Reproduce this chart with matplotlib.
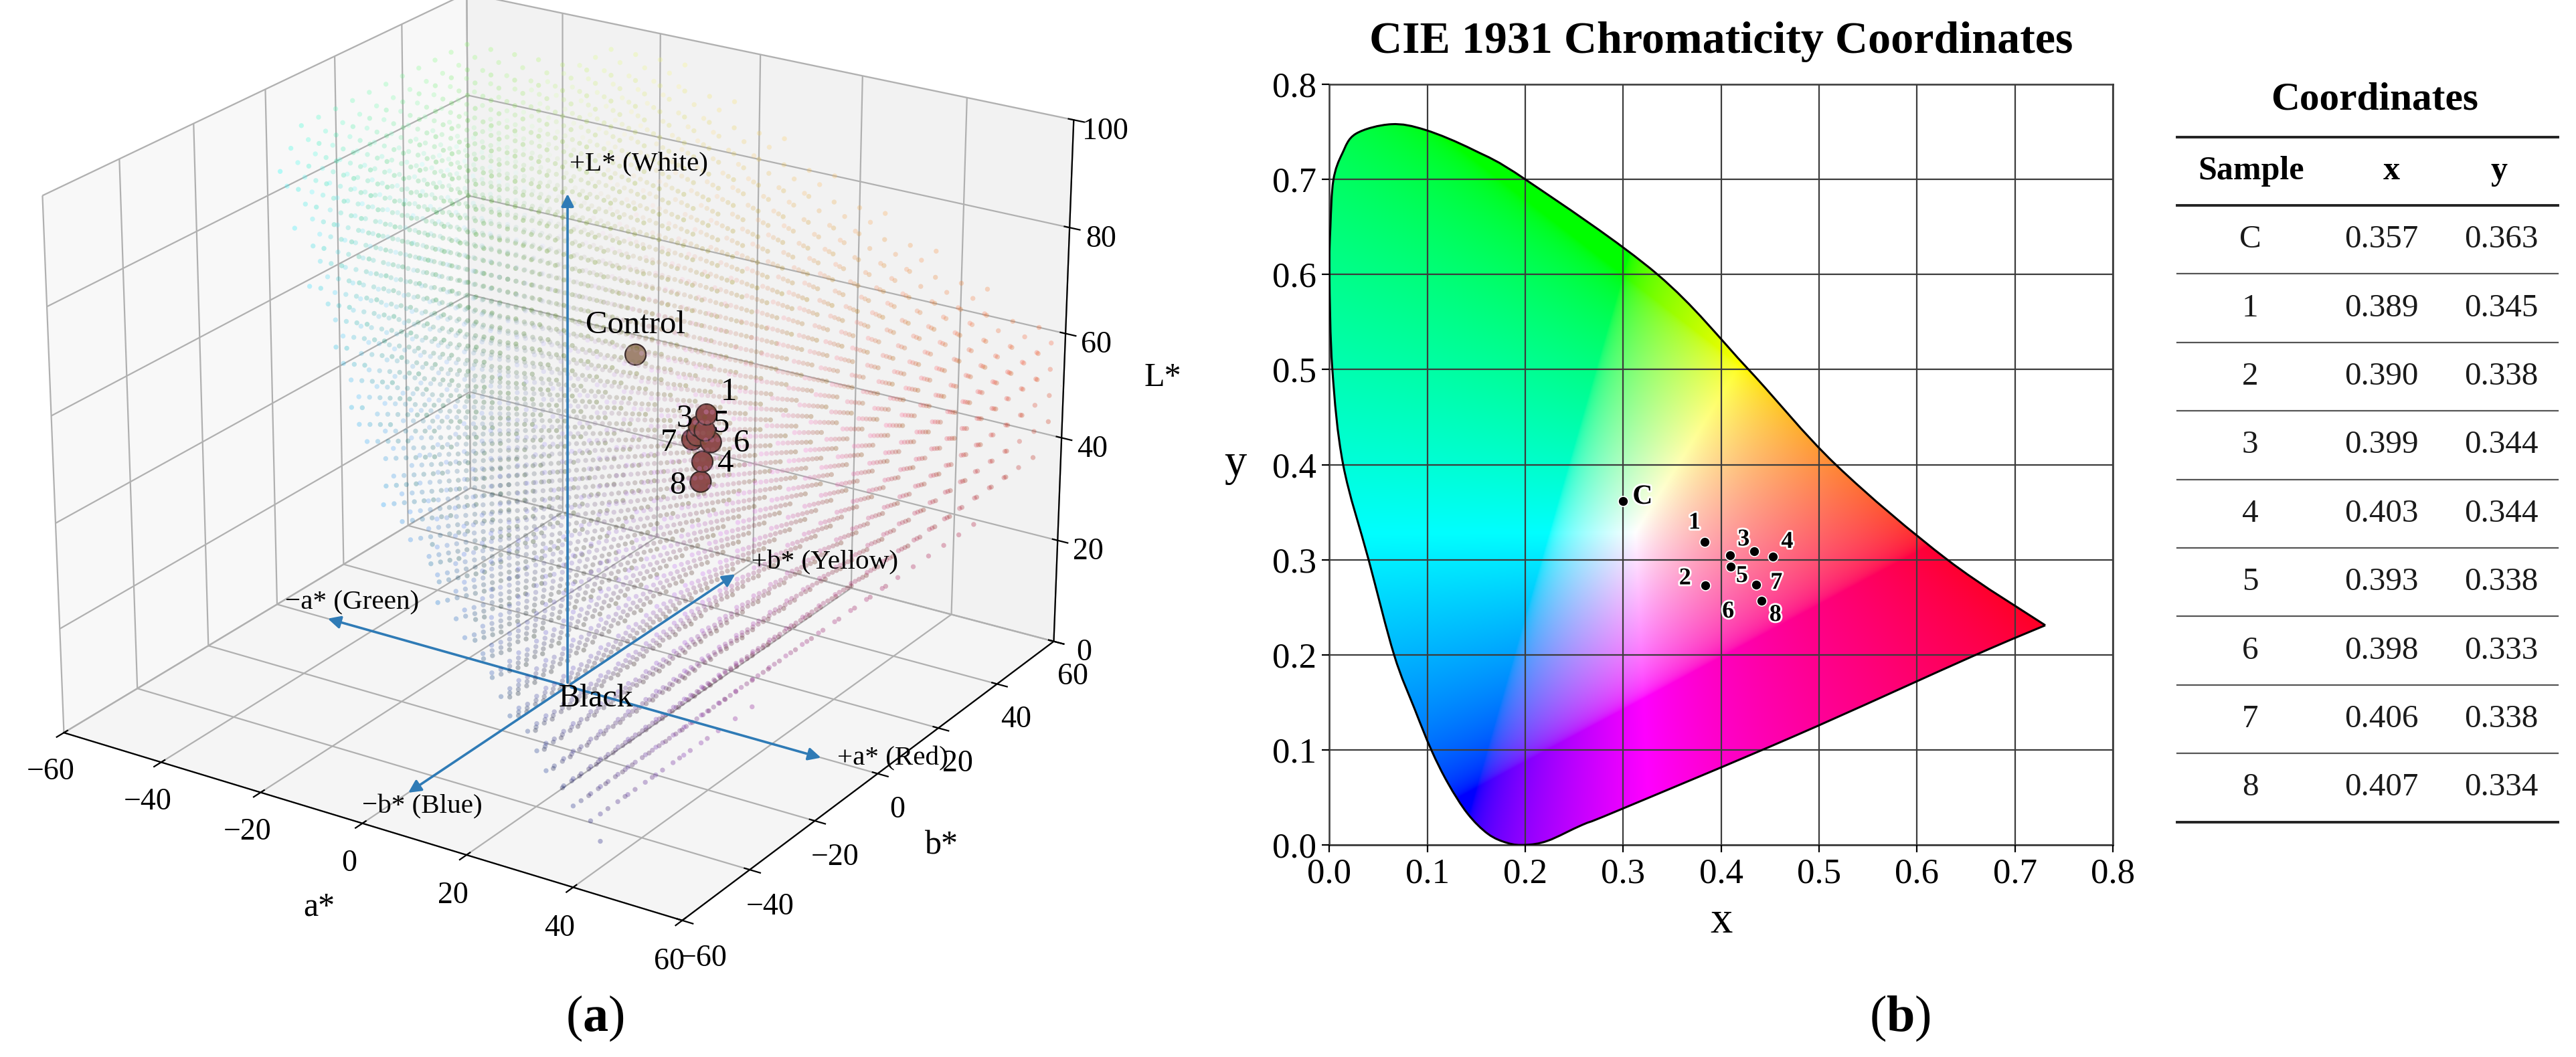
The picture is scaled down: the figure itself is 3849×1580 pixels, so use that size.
import numpy as np
import matplotlib.pyplot as plt
from matplotlib.path import Path
from matplotlib.patches import PathPatch, FancyArrowPatch
import matplotlib.patheffects as pe
from mpl_toolkits.mplot3d import proj3d

plt.rcParams['font.family'] = ['Liberation Serif', 'DejaVu Serif']
plt.rcParams['mathtext.fontset'] = 'custom'
plt.rcParams['mathtext.rm'] = 'Liberation Serif'
plt.rcParams['mathtext.bf'] = 'Liberation Serif:bold'

# ---------------- data ----------------
# (a) CIELAB positions of the samples
lab_names = ['Control', '1', '2', '3', '4', '5', '6', '7', '8']
lab_L = [59.3, 52.6, 48.2, 50.0, 43.5, 49.5, 47.6, 47.2, 39.6]
lab_a = [4.0, 19.4, 17.6, 18.0, 18.7, 19.1, 20.3, 16.7, 18.4]
lab_b = [14.5, 12.0, 12.0, 12.0, 12.0, 12.0, 12.0, 12.0, 12.0]
lab_colors = ['#a08470'] + ['#8e4b4b'] * 8

# direction arrows from Black (origin): label, a, b, L
axis_labels = ['+L* (White)', '\u2212a* (Green)', '+a* (Red)', '+b* (Yellow)', '\u2212b* (Blue)']
axis_da = [0, -50, 50, 0, 0]
axis_db = [0, 0, 0, 55, -48]
axis_dL = [94, 0, 0, 0, 0]

# (b) chromaticity points as drawn, and the table values
cie_names = ['C', '1', '2', '3', '4', '5', '6', '7', '8']
cie_x = [0.300, 0.383, 0.384, 0.434, 0.453, 0.409, 0.410, 0.436, 0.441]
cie_y = [0.362, 0.319, 0.273, 0.309, 0.303, 0.305, 0.293, 0.274, 0.257]

tab_sample = ['C', '1', '2', '3', '4', '5', '6', '7', '8']
tab_x = ['0.357', '0.389', '0.390', '0.399', '0.403', '0.393', '0.398', '0.406', '0.407']
tab_y = ['0.363', '0.345', '0.338', '0.344', '0.344', '0.338', '0.333', '0.338', '0.334']

# outline of the colour region (starts/ends at red corner)
locus_x = [0.731, 0.631, 0.517, 0.428, 0.335, 0.200, 0.147, 0.098, 0.063, 0.027, 0.013,
           0.004, 0.001, 0.000, 0.003, 0.014, 0.040, 0.066, 0.087, 0.104, 0.121, 0.141,
           0.162, 0.182, 0.200, 0.223, 0.258, 0.292, 0.476, 0.658, 0.731]
locus_y = [0.231, 0.300, 0.400, 0.500, 0.600, 0.700, 0.731, 0.752, 0.758, 0.748, 0.727,
           0.699, 0.650, 0.600, 0.500, 0.400, 0.300, 0.200, 0.143, 0.100, 0.065, 0.033,
           0.0115, 0.002, 0.000, 0.0044, 0.021, 0.035, 0.115, 0.199, 0.231]

M_XYZ = np.array([[3.2406, -1.5372, -0.4986],
                  [-0.9689, 1.8758, 0.0415],
                  [0.0557, -0.2040, 1.0570]])


def gamma(c):
    c = np.clip(c, 0, 1)
    return np.where(c <= 0.0031308, 12.92 * c, 1.055 * c ** (1 / 2.4) - 0.055)


def lab_to_rgb(L, a, b):
    fy = (L + 16) / 116
    fx = fy + a / 500
    fz = fy - b / 200
    finv = lambda t: np.where(t > 6 / 29, t ** 3, 3 * (6 / 29) ** 2 * (t - 4 / 29))
    xyz = np.stack([0.95047 * finv(fx), finv(fy), 1.08883 * finv(fz)])
    return M_XYZ @ xyz


class Arrow3D(FancyArrowPatch):
    def __init__(self, xs, ys, zs, *args, **kwargs):
        super().__init__((0, 0), (0, 0), *args, **kwargs)
        self._verts3d = xs, ys, zs

    def do_3d_projection(self, renderer=None):
        xs, ys, zs = proj3d.proj_transform(*self._verts3d, self.axes.M)
        self.set_positions((xs[0], ys[0]), (xs[1], ys[1]))
        return np.min(zs)


fig = plt.figure(figsize=(3849 / 200, 1580 / 200), dpi=200)

# ---------------- (a) 3D CIELAB ----------------
ax = fig.add_axes([-0.02, 0.103, 0.47, 0.96], projection='3d')
ax.view_init(elev=23, azim=-57)
ax.set_xlim(-60, 60)
ax.set_ylim(-60, 60)
ax.set_zlim(0, 100)
ax.set_box_aspect((4, 4, 3.15), zoom=1.13)

gL, ga, gb = np.meshgrid(np.arange(5, 100, 5), np.arange(-60, 61, 5), np.arange(-60, 61, 5), indexing='ij')
gL, ga, gb = gL.ravel(), ga.ravel(), gb.ravel()
lin = lab_to_rgb(gL, ga, gb)
ok = np.all((lin >= -0.001) & (lin <= 1.001), axis=0)
cols = gamma(lin[:, ok]).T
ax.scatter(ga[ok], gb[ok], gL[ok], c=cols, s=7, alpha=0.28, linewidths=0, depthshade=False)

for da, db, dL in zip(axis_da, axis_db, axis_dL):
    ax.add_artist(Arrow3D([0, da], [0, db], [0, dL], arrowstyle='-|>', mutation_scale=14,
                          color='#2f7bb6', lw=1.3))

ax.scatter(lab_a, lab_b, lab_L, s=125, c=lab_colors, edgecolors='#3a2a2a', linewidths=0.8,
           depthshade=False, alpha=1)

ax.set_xticks(range(-60, 61, 20))
ax.set_yticks(range(-60, 61, 20))
ax.set_zticks(range(0, 101, 20))
ax.tick_params(labelsize=16.5, pad=1)
ax.set_xlabel('a*', fontsize=18, labelpad=8)
ax.set_ylabel('b*', fontsize=18, labelpad=8)
ax.set_zlabel('L*', fontsize=18, labelpad=8)

fig.canvas.draw()
P = ax.get_proj()


def label3d(text, a, b, L, dx, dy, size, ha='center'):
    px, py, _ = proj3d.proj_transform(a, b, L, P)
    ax.annotate(text, (px, py), xytext=(dx, dy), textcoords='offset points',
                fontsize=size, ha=ha, va='center', zorder=10)


arrow_offsets = [(1, 14, 'left'), (15, 8, 'center'), (7, 0, 'left'), (7, 5, 'left'), (9, -6.5, 'center')]
for lbl, da, db, dL, (dx, dy, ha) in zip(axis_labels, axis_da, axis_db, axis_dL, arrow_offsets):
    label3d(lbl, da, db, dL, dx, dy, 14.8, ha)
label3d('Black', 0, 0, 0, -4.7, -6.5, 17.2, 'left')

lab_offsets = [(0, 16), (12, 12), None, (-8, 4), (12.6, -1), (8.6, 3.6), (16.5, -0.7), (-12.6, -1.8), (-12.6, -2.2)]
for name, a, b, L, off in zip(lab_names, lab_a, lab_b, lab_L, lab_offsets):
    if off is None:   # label hidden behind the cluster in the original
        continue
    label3d(name, a, b, L, off[0], off[1], 17.5)

# ---------------- (b) CIE 1931 ----------------
ax2 = fig.add_axes([1986.4 / 3849, 1 - 1263 / 1580, (3157 - 1986.4) / 3849, (1263 - 126) / 1580])
n = 700
gx, gy = np.meshgrid(np.linspace(0, 0.8, n), np.linspace(0.0005, 0.8, n))
xyz = np.stack([gx / gy, np.ones_like(gx), (1 - gx - gy) / gy])
rgb = np.tensordot(M_XYZ, xyz, axes=1)
rgb = np.clip(rgb, 0, None)
rgb = rgb / rgb.max(axis=0, keepdims=True)
img = gamma(rgb).transpose(1, 2, 0)
im = ax2.imshow(img, origin='lower', extent=(0, 0.8, 0, 0.8), interpolation='bilinear', zorder=0)

pts = np.column_stack([locus_x, locus_y])
verts = [pts[0]]
codes = [Path.MOVETO]
for i in range(len(pts) - 1):
    p0 = pts[i - 1] if i > 0 else pts[i]
    p1, p2 = pts[i], pts[i + 1]
    p3 = pts[i + 2] if i + 2 < len(pts) else pts[i + 1]
    verts += [p1 + (p2 - p0) / 6, p2 - (p3 - p1) / 6, p2]
    codes += [Path.CURVE4] * 3
locus = PathPatch(Path(verts, codes), facecolor='none', edgecolor='black', lw=1.1, zorder=3)
ax2.add_patch(locus)
im.set_clip_path(locus)

ax2.set_xlim(0, 0.8)
ax2.set_ylim(0, 0.8)
ax2.set_aspect('auto')
ax2.set_xticks(np.arange(0, 0.81, 0.1))
ax2.set_yticks(np.arange(0, 0.81, 0.1))
ax2.set_xticklabels([f'{v:.1f}' for v in np.arange(0, 0.81, 0.1)])
ax2.set_yticklabels([f'{v:.1f}' for v in np.arange(0, 0.81, 0.1)])
ax2.grid(True, color='#3c3c3c', lw=0.8)
ax2.set_axisbelow(False)
for s in ax2.spines.values():
    s.set_color('#333333')
    s.set_linewidth(0.9)
ax2.tick_params(direction='out', length=4, width=0.8, labelsize=19, pad=3)
ax2.set_xlabel('x', fontsize=24, labelpad=6)
ax2.set_ylabel('y', fontsize=24, rotation=0, labelpad=20, va='center')
ax2.set_title('CIE 1931 Chromaticity Coordinates', fontsize=24.5, fontweight='bold', pad=17)

ax2.plot(cie_x, cie_y, 'o', color='black', ms=5.4, mec='white', mew=0.6, zorder=5)
cie_offsets = [(5, 2, 'left'), (-5.4, 10, 'center'), (-11, 3.6, 'center'), (-5.8, 6.1, 'center'),
               (7.6, 7.9, 'center'), (6.5, -11.5, 'center'), (-1.5, -24.5, 'center'),
               (10.8, 0.7, 'center'), (7.6, -7.9, 'center')]
halo = [pe.withStroke(linewidth=2, foreground='white')]
for name, x, y, (dx, dy, ha) in zip(cie_names, cie_x, cie_y, cie_offsets):
    ax2.annotate(name, (x, y), xytext=(dx, dy), textcoords='offset points', ha=ha, va='center',
                 fontsize=15 if name == 'C' else 13, fontweight='bold', path_effects=halo, zorder=6)

# ---------------- table and panel letters ----------------
ov = fig.add_axes([0, 0, 1, 1], facecolor='none')
ov.set_xlim(0, 3849)
ov.set_ylim(1580, 0)
ov.axis('off')

tx0, tx1 = 3253, 3822
col_x = [3362, 3558, 3737]
row_h = 102.4
y_head_top, y_head_bot = 205, 307
ov.text(3548, 150, 'Coordinates', fontsize=21.4, fontweight='bold', ha='center', va='center')
ov.plot([tx0, tx1], [y_head_top, y_head_top], color='#222222', lw=1.4)
ov.plot([tx0, tx1], [y_head_bot, y_head_bot], color='#222222', lw=1.4)
for hdr, cx in zip(['Sample', 'x', 'y'], [3364, 3573, 3734]):
    ov.text(cx, (y_head_top + y_head_bot) / 2, hdr, fontsize=18, fontweight='bold', ha='center', va='center')
for i, row in enumerate(zip(tab_sample, tab_x, tab_y)):
    yc = y_head_bot + row_h * (i + 0.5)
    for val, cx in zip(row, col_x):
        ov.text(cx, yc, val, fontsize=17.7, ha='center', va='center', color='#1a1a1a')
    yl = y_head_bot + row_h * (i + 1)
    last = i == len(tab_sample) - 1
    ov.plot([tx0, tx1], [yl, yl], color='#222222' if last else '#555555', lw=1.4 if last else 0.8)

ov.text(889, 1522, r'($\mathbf{a}$)', fontsize=27.5, ha='center', va='center')
ov.text(2839, 1522, r'($\mathbf{b}$)', fontsize=27.5, ha='center', va='center')

fig.savefig('out.png', dpi=200, facecolor='white')
